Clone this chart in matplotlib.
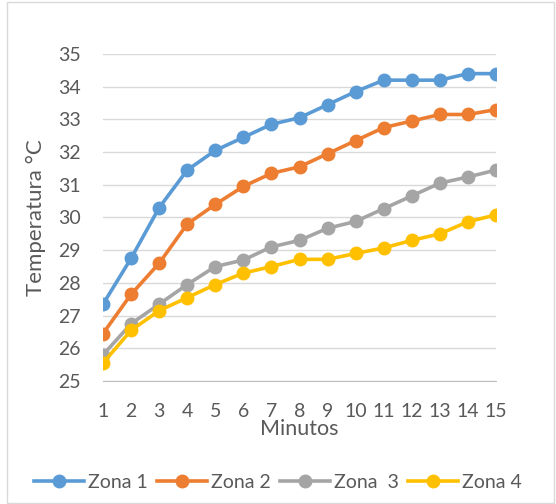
import matplotlib.pyplot as plt
from matplotlib.patches import Rectangle

plt.rcParams['font.family'] = ['Lato', 'DejaVu Sans']

# Data
minutos = list(range(1, 16))
zona1 = [27.35, 28.75, 30.3, 31.45, 32.05, 32.45, 32.85, 33.05, 33.45, 33.85, 34.2, 34.2, 34.2, 34.4, 34.4]
zona2 = [26.45, 27.65, 28.6, 29.8, 30.4, 30.95, 31.35, 31.55, 31.95, 32.35, 32.75, 32.95, 33.15, 33.15, 33.3]
zona3 = [25.8, 26.75, 27.35, 27.95, 28.5, 28.7, 29.1, 29.3, 29.67, 29.88, 30.27, 30.66, 31.05, 31.24, 31.45]
zona4 = [25.55, 26.55, 27.15, 27.55, 27.95, 28.3, 28.5, 28.72, 28.72, 28.9, 29.07, 29.3, 29.5, 29.87, 30.08]
series = [("Zona 1", zona1, "#5B9BD5"), ("Zona 2", zona2, "#ED7D31"),
          ("Zona  3", zona3, "#A5A5A5"), ("Zona 4", zona4, "#FFC000")]
yticks = list(range(25, 36))

fig = plt.figure(figsize=(5.56, 5.04), dpi=100)
ax = fig.add_axes([103 / 556, 1 - 381 / 504, (496 - 103) / 556, (381 - 54) / 504])

for name, vals, color in series:
    ax.plot(minutos, vals, color=color, lw=2.6, marker='o', markersize=9, label=name)

ax.set_xlim(1, 15)
ax.set_ylim(25, 35)
ax.set_xticks(minutos)
ax.set_yticks(yticks)
ax.grid(axis='y', color='#d9d9d9', lw=1)
ax.set_axisbelow(True)
for s in ['top', 'right', 'left']:
    ax.spines[s].set_visible(False)
ax.spines['bottom'].set_color('#bfbfbf')
ax.tick_params(axis='y', length=0, labelsize=14, colors='#595959', pad=16)
ax.tick_params(axis='x', length=0, labelsize=14, colors='#595959', pad=16)
ax.set_xlabel('Minutos', fontsize=15.5, color='#595959', labelpad=-1)
ax.set_ylabel('Temperatura °C', fontsize=16, color='#595959', labelpad=9)

fig.legend(loc='center', ncol=4, frameon=False, fontsize=14, labelcolor='#595959',
           handlelength=2.6, handletextpad=0.2, columnspacing=0.45,
           bbox_to_anchor=(0.5, 1 - 482 / 504), bbox_transform=fig.transFigure)

fig.patches.append(Rectangle((7 / 556, 0.002), 547 / 556, 0.995, transform=fig.transFigure,
                             fill=False, edgecolor='#d9d9d9', lw=1))

plt.savefig('out.png', dpi=100)
